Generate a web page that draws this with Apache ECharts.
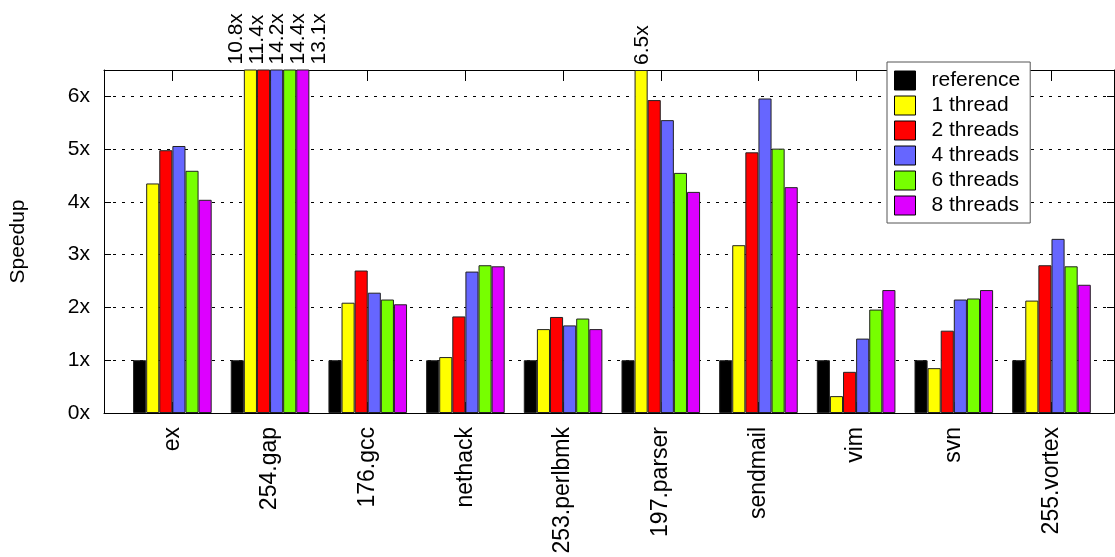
<!DOCTYPE html>
<html>
<head>
<meta charset="utf-8">
<script src="https://cdn.jsdelivr.net/npm/echarts@6/dist/echarts.min.js"></script>
<style>
html,body{margin:0;padding:0;background:#fff;}
#chart{width:1115px;height:557px;}
</style>
</head>
<body>
<div id="chart"></div>
<script>
// ---- data ----
const categories = ['ex', '254.gap', '176.gcc', 'nethack', '253.perlbmk', '197.parser', 'sendmail', 'vim', 'svn', '255.vortex'];
const seriesNames = ['reference', '1 thread', '2 threads', '4 threads', '6 threads', '8 threads'];
const reference = [1, 1, 1, 1, 1, 1, 1, 1, 1, 1];
const thread1 = [4.35, 10.8, 2.09, 1.06, 1.59, 6.5, 3.18, 0.32, 0.85, 2.13];
const thread2 = [4.98, 11.4, 2.70, 1.83, 1.82, 5.93, 4.94, 0.78, 1.56, 2.80];
const thread4 = [5.06, 14.2, 2.28, 2.68, 1.66, 5.55, 5.96, 1.41, 2.15, 3.30];
const thread6 = [4.59, 14.4, 2.15, 2.80, 1.79, 4.55, 5.01, 1.96, 2.17, 2.78];
const thread8 = [4.04, 13.1, 2.06, 2.78, 1.59, 4.19, 4.28, 2.33, 2.33, 2.43];
const yTicks = [0, 1, 2, 3, 4, 5, 6];
const yMax = 6.5;

// ---- styles ----
const colors = ['#000000', '#ffff00', '#ff0000', '#6666ff', '#77ff00', '#dd00ff'];
const FONT = 'Liberation Sans, Arial, sans-serif';
const labelStep = 7.5;   // spread of overflow labels (px)
const labelShift = 1;

const allValues = [reference, thread1, thread2, thread4, thread6, thread8];
const catIdx = categories.map((c, i) => i);

// count how many overflow labels each category has, to spread them
const overflowCount = categories.map((c, i) => allValues.filter(a => a[i] >= yMax).length);
const overflowSeen = categories.map(() => 0);

const series = allValues.map((vals, s) => ({
  name: seriesNames[s],
  type: 'bar',
  xAxisIndex: 0,
  yAxisIndex: 0,
  barWidth: 13.1,
  barGap: '0%',
  clip: true,
  itemStyle: { color: colors[s], borderColor: '#222', borderWidth: 1 },
  data: vals.map((v, i) => {
    if (v >= yMax) {
      const k = overflowSeen[i]++;
      const n = overflowCount[i];
      const dx = (k - (n - 1) / 2) * labelStep + labelShift;
      return {
        value: [i, v],
        label: {
          show: true, position: 'top', rotate: 90, distance: 5,
          align: 'left', verticalAlign: 'middle',
          offset: [0, dx],
          fontSize: 21, fontFamily: FONT, color: '#000',
          formatter: () => v.toFixed(1) + 'x'
        }
      };
    }
    return { value: [i, v] };
  })
}));

const axisLineStyle = { show: true, onZero: false, lineStyle: { color: '#000', width: 1 } };

const chart = echarts.init(document.getElementById('chart'), null, { renderer: 'canvas' });
chart.setOption({
  animation: false,
  backgroundColor: '#fff',
  textStyle: { fontFamily: FONT },
  grid: { left: 103, right: 1, top: 70, bottom: 144, containLabel: false },
  legend: {
    data: seriesNames,
    orient: 'vertical',
    left: 887, top: 62,
    padding: [8, 10, 7, 7],
    backgroundColor: '#fff',
    borderColor: '#555', borderWidth: 1,
    itemWidth: 21, itemHeight: 19, itemGap: 4,
    icon: 'rect',
    itemStyle: { borderColor: '#000', borderWidth: 1 },
    textStyle: { fontSize: 21, fontFamily: FONT, color: '#000', lineHeight: 19, padding: [0, 0, 0, 11] }
  },
  xAxis: [
    {
      type: 'value', position: 'bottom', min: -0.7, max: 9.64,
      axisLine: axisLineStyle,
      axisTick: { show: true, inside: true, length: 11, customValues: catIdx, lineStyle: { color: '#000' } },
      axisLabel: {
        show: true, customValues: catIdx, rotate: 90, margin: 14,
        fontSize: 23, fontFamily: FONT, color: '#000',
        formatter: (v) => categories[Math.round(v)]
      },
      splitLine: { show: false }
    },
    {
      type: 'value', position: 'top', min: -0.7, max: 9.64,
      axisLine: axisLineStyle,
      axisTick: { show: true, inside: true, length: 11, customValues: catIdx, lineStyle: { color: '#000' } },
      axisLabel: { show: false },
      splitLine: { show: false }
    }
  ],
  yAxis: [
    {
      type: 'value', position: 'left', min: 0, max: yMax,
      name: 'Speedup', nameLocation: 'middle', nameGap: 75, nameRotate: 90,
      nameTextStyle: { fontSize: 21, fontFamily: FONT, color: '#000' },
      axisLine: axisLineStyle,
      axisTick: { show: true, inside: true, length: 7, customValues: yTicks, lineStyle: { color: '#000' } },
      axisLabel: {
        show: true, customValues: yTicks, margin: 14,
        fontSize: 21, fontFamily: FONT, color: '#000',
        formatter: (v) => v + 'x'
      },
      splitLine: { show: true, lineStyle: { color: '#000', width: 1, type: [3, 6] } }
    },
    {
      type: 'value', position: 'right', min: 0, max: yMax,
      axisLine: axisLineStyle,
      axisTick: { show: true, inside: true, length: 7, customValues: yTicks, lineStyle: { color: '#000' } },
      axisLabel: { show: false },
      splitLine: { show: false }
    }
  ],
  series: series
});
</script>
</body>
</html>
